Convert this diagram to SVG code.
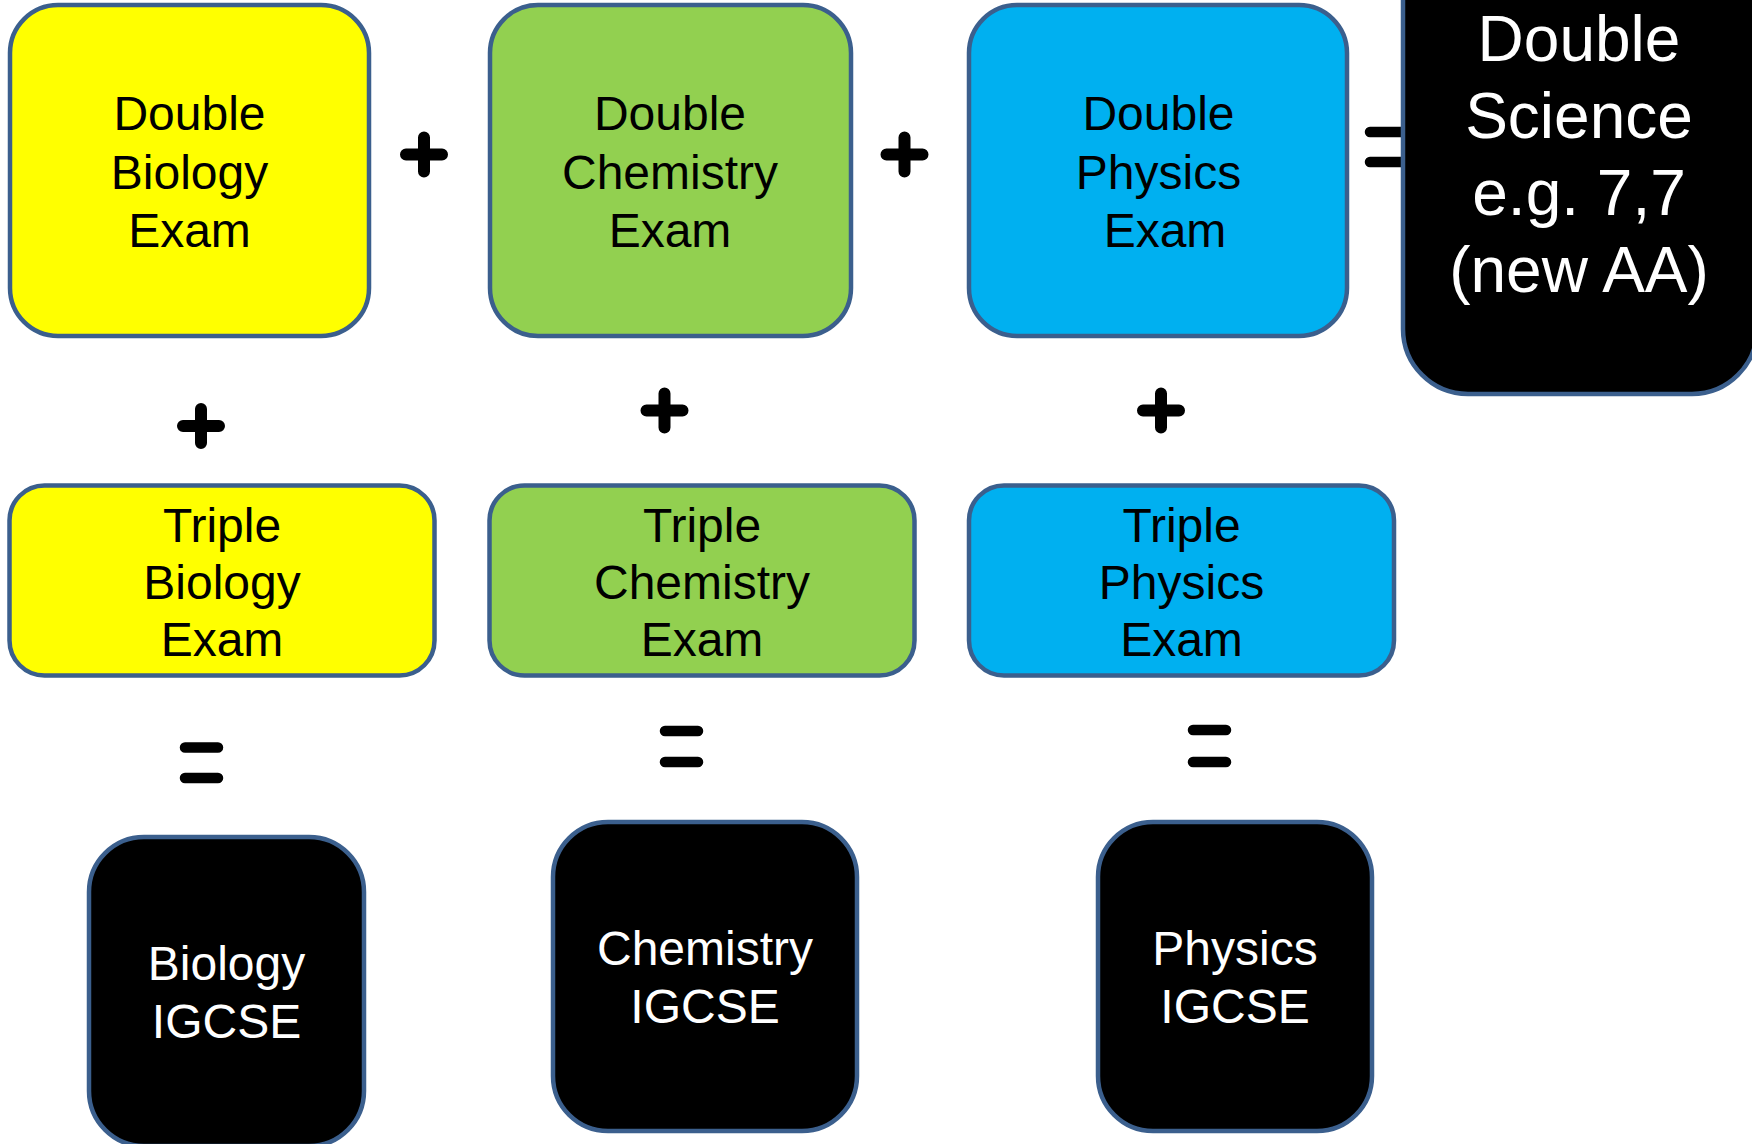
<svg xmlns="http://www.w3.org/2000/svg" width="1752" height="1144" viewBox="0 0 1752 1144">
<style>
.box{stroke:#3B5F8D;stroke-width:4.5}
.y{fill:#FFFF00}.g{fill:#92D050}.b{fill:#00B0F0}.k{fill:#000000}
.t{font-family:"Liberation Sans",Arial,sans-serif;font-size:48px;text-anchor:middle;fill:#000}
.w{fill:#fff}
.big{font-size:64px}
.op{stroke:#000;stroke-linecap:round;fill:none}
.plus{stroke-width:12}
.eq{stroke-width:10.5}
</style>
<rect width="1752" height="1144" fill="#fff"/>
<g id="connectors">
  <path class="op plus" d="M406 154.5H442M424 137.5V171.5"/>
  <path class="op plus" d="M886.5 154.5H922.5M904.5 137.5V171.5"/>
  <path class="op plus" d="M183 426H219M201 409V443"/>
  <path class="op plus" d="M646.5 410.5H682.5M664.5 393.5V427.5"/>
  <path class="op plus" d="M1143 410.5H1179M1161 393.5V427.5"/>
  <path class="op eq" d="M1370 132H1420M1370 162H1420"/>
  <path class="op eq" d="M185 747.5H218M185 778H218"/>
  <path class="op eq" d="M665 731H698M665 762H698"/>
  <path class="op eq" d="M1193 730H1226M1193 762H1226"/>
</g>
<g id="double-biology">
  <rect class="box y" x="10" y="5" width="359" height="331" rx="48"/>
  <text class="t" x="189.5" y="130">Double</text>
  <text class="t" x="189.5" y="188.5">Biology</text>
  <text class="t" x="189.5" y="247">Exam</text>
</g>
<g id="double-chemistry">
  <rect class="box g" x="490" y="5" width="361" height="331" rx="48"/>
  <text class="t" x="670" y="130">Double</text>
  <text class="t" x="670" y="188.5">Chemistry</text>
  <text class="t" x="670" y="247">Exam</text>
</g>
<g id="double-physics">
  <rect class="box b" x="969" y="5" width="378" height="331" rx="48"/>
  <text class="t" x="1158.5" y="130">Double</text>
  <text class="t" x="1158.5" y="188.5">Physics</text>
  <text class="t" x="1165" y="247">Exam</text>
</g>
<g id="double-science">
  <rect class="box k" x="1403" y="-75" width="354" height="469" rx="65"/>
  <text class="t w big" x="1579" y="61">Double</text>
  <text class="t w big" x="1579" y="138">Science</text>
  <text class="t w big" x="1579" y="215">e.g. 7,7</text>
  <text class="t w big" x="1579" y="292">(new AA)</text>
</g>
<g id="triple-biology">
  <rect class="box y" x="9.5" y="485.5" width="425" height="190" rx="35"/>
  <text class="t" x="222" y="542">Triple</text>
  <text class="t" x="222" y="599">Biology</text>
  <text class="t" x="222" y="656">Exam</text>
</g>
<g id="triple-chemistry">
  <rect class="box g" x="489.5" y="485.5" width="425" height="190" rx="35"/>
  <text class="t" x="702" y="542">Triple</text>
  <text class="t" x="702" y="599">Chemistry</text>
  <text class="t" x="702" y="656">Exam</text>
</g>
<g id="triple-physics">
  <rect class="box b" x="969" y="485.5" width="425" height="190" rx="35"/>
  <text class="t" x="1181.5" y="542">Triple</text>
  <text class="t" x="1181.5" y="599">Physics</text>
  <text class="t" x="1181.5" y="656">Exam</text>
</g>
<g id="biology-igcse">
  <rect class="box k" x="89" y="837" width="275" height="309" rx="55"/>
  <text class="t w" x="226.5" y="980">Biology</text>
  <text class="t w" x="226.5" y="1038">IGCSE</text>
</g>
<g id="chemistry-igcse">
  <rect class="box k" x="553" y="822" width="304" height="309" rx="55"/>
  <text class="t w" x="705" y="965">Chemistry</text>
  <text class="t w" x="705" y="1023">IGCSE</text>
</g>
<g id="physics-igcse">
  <rect class="box k" x="1098" y="822" width="274" height="309" rx="55"/>
  <text class="t w" x="1235" y="965">Physics</text>
  <text class="t w" x="1235" y="1023">IGCSE</text>
</g>
</svg>
